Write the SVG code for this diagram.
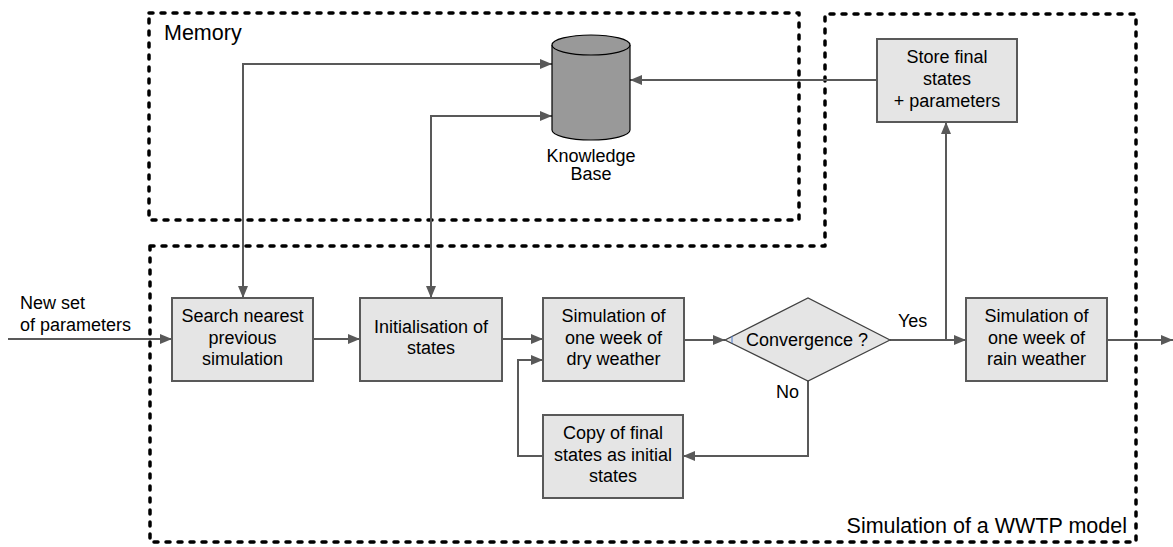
<svg xmlns="http://www.w3.org/2000/svg" width="1173" height="547" viewBox="0 0 1173 547">
  <defs>
    <marker id="arrow" viewBox="0 0 12 10" refX="12" refY="5" markerWidth="12" markerHeight="10" markerUnits="userSpaceOnUse" orient="auto-start-reverse">
      <path d="M0,0 L12,5 L0,10 z" fill="#595959"/>
    </marker>
    <style>
      .region { fill: none; stroke: #000; stroke-width: 3.5; stroke-dasharray: 4 8; stroke-linecap: round; stroke-linejoin: round; }
      .box { fill: #e5e5e5; stroke: #595959; stroke-width: 2; }
      .diamond { fill: #e5e5e5; stroke: #404040; stroke-width: 1.2; }
      .link { fill: none; stroke: #595959; stroke-width: 2; }
      text { font-family: "Liberation Sans", Arial, sans-serif; font-size: 18px; fill: #000; }
      .mid { text-anchor: middle; }
      .title { font-size: 21.5px; }
    </style>
  </defs>

  <rect width="1173" height="547" fill="#fff"/>

  <!-- dashed regions -->
  <g id="memory-region">
    <rect class="region" x="149" y="13" width="650" height="207"/>
    <text class="title" x="164" y="40">Memory</text>
  </g>
  <g id="wwtp-region">
    <path class="region" d="M150,246 L825,246 L825,14 L1136,14 L1136,542 L150,542 Z"/>
    <text class="title" x="1127" y="533" text-anchor="end">Simulation of a WWTP model</text>
  </g>

  <!-- connectors -->
  <g id="connectors">
    <line class="link" x1="8" y1="339" x2="172" y2="339" marker-end="url(#arrow)"/>
    <line class="link" x1="313" y1="339" x2="360" y2="339" marker-end="url(#arrow)"/>
    <line class="link" x1="502" y1="339" x2="543" y2="339" marker-end="url(#arrow)"/>
    <line class="link" x1="684" y1="340" x2="725" y2="340" marker-end="url(#arrow)"/>
    <line class="link" x1="890" y1="340" x2="966" y2="340" marker-end="url(#arrow)"/>
    <line class="link" x1="1107" y1="340" x2="1173" y2="340" marker-end="url(#arrow)"/>
    <line class="link" x1="946" y1="341" x2="946" y2="122" marker-end="url(#arrow)"/>
    <line class="link" x1="877" y1="80" x2="630" y2="80" marker-end="url(#arrow)"/>
    <path class="link" d="M808,380 L808,456 L683,456" marker-end="url(#arrow)"/>
    <path class="link" d="M543,456 L518,456 L518,360 L543,360" marker-end="url(#arrow)"/>
    <path class="link" d="M243,298 L243,64 L552,64" marker-start="url(#arrow)" marker-end="url(#arrow)"/>
    <path class="link" d="M431,298 L431,116 L552,116" marker-start="url(#arrow)" marker-end="url(#arrow)"/>
    <text x="20" y="309">New set</text>
    <text x="20" y="331">of parameters</text>
    <text x="898" y="327">Yes</text>
    <text x="776" y="398">No</text>
  </g>

  <!-- knowledge base -->
  <g id="knowledge-base">
    <path d="M552,45 L552,130 A39,10 0 0 0 630,130 L630,45" fill="#999" stroke="#000" stroke-width="1.2"/>
    <ellipse cx="591" cy="45" rx="39" ry="10" fill="#999" stroke="#000" stroke-width="1.2"/>
    <text class="mid" x="591" y="162">Knowledge</text>
    <text class="mid" x="591" y="180">Base</text>
  </g>

  <g id="store-final">
    <rect class="box" x="877" y="39" width="140" height="83"/>
    <text class="mid" x="947" y="63">Store final</text>
    <text class="mid" x="947" y="85">states</text>
    <text class="mid" x="947" y="107">+ parameters</text>
  </g>

  <g id="search-nearest">
    <rect class="box" x="172" y="298" width="141" height="83"/>
    <text class="mid" x="242.5" y="322">Search nearest</text>
    <text class="mid" x="242.5" y="343.5">previous</text>
    <text class="mid" x="242.5" y="365">simulation</text>
  </g>

  <g id="initialisation">
    <rect class="box" x="360" y="298" width="142" height="83"/>
    <text class="mid" x="431" y="333">Initialisation of</text>
    <text class="mid" x="431" y="354">states</text>
  </g>

  <g id="dry-weather">
    <rect class="box" x="543" y="298" width="141" height="83"/>
    <text class="mid" x="613.5" y="322">Simulation of</text>
    <text class="mid" x="613.5" y="343.5">one week of</text>
    <text class="mid" x="613.5" y="365">dry weather</text>
  </g>

  <g id="convergence">
    <path class="diamond" d="M725,340 L808,298 L890,340 L808,381 Z"/>
    <line x1="732" y1="336" x2="732" y2="343" stroke="#4a7bd0" stroke-width="1"/>
    <text class="mid" x="807" y="346">Convergence ?</text>
  </g>

  <g id="rain-weather">
    <rect class="box" x="966" y="298" width="141" height="83"/>
    <text class="mid" x="1036.5" y="322">Simulation of</text>
    <text class="mid" x="1036.5" y="343.5">one week of</text>
    <text class="mid" x="1036.5" y="365">rain weather</text>
  </g>

  <g id="copy-states">
    <rect class="box" x="543" y="415" width="140" height="83"/>
    <text class="mid" x="613" y="439">Copy of final</text>
    <text class="mid" x="613" y="460.5">states as initial</text>
    <text class="mid" x="613" y="482">states</text>
  </g>
</svg>
